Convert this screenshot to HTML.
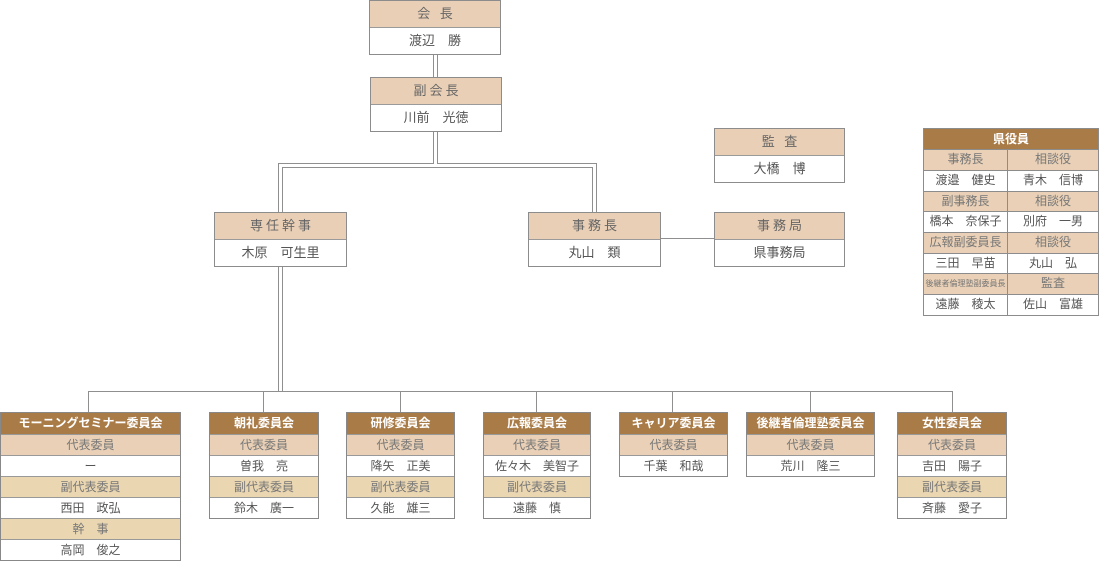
<!DOCTYPE html>
<html><head><meta charset="utf-8">
<style>
*{box-sizing:border-box;margin:0;padding:0}
body{width:1099px;height:562px;background:#fff;position:relative;overflow:hidden;font-family:"Liberation Sans","Noto Sans CJK JP",sans-serif;}
.b{position:absolute;border:1px solid #8c8c8c;background:#fff}
.b .h{height:26px;line-height:26px;background:#e9cfb5;text-align:center;font-size:13px;color:#666;letter-spacing:3px;padding-left:3px}
.b .n{height:26px;line-height:25px;border-top:1px solid #9a9a9a;text-align:center;font-size:13px;color:#555}
.c{position:absolute;top:412px;border:1px solid #888;background:#fff}
.c div{height:21px;line-height:20px;text-align:center;font-size:12px;border-top:1px solid #999;color:#555;white-space:nowrap}
.c .t{height:21px;border-top:none;background:#a97b47;color:#fff;font-weight:bold;line-height:21px}
.c .p{background:#e9d0b6;color:#777}
.c .y{background:#ead6b1;color:#777}
.g{position:absolute;left:923px;top:128px;width:176px;height:188px;border:1px solid #8c8c8c;background:#8c8c8c;display:grid;grid-template-columns:83px 90px;grid-template-rows:20px 20px 20px 19px 20px 20px 19px 20px 20px;gap:1px}
.g div{background:#fff;text-align:center;font-size:12px;color:#555;line-height:19px;white-space:nowrap;overflow:hidden}
.g .t{grid-column:1 / 3;background:#a97b47;color:#fff;font-weight:bold;line-height:20px}
.g .p{background:#e9d0b6;color:#777}
svg{position:absolute;left:0;top:0}
</style></head><body>
<svg width="1099" height="562" viewBox="0 0 1099 562">
<g stroke="#8f8f8f" stroke-width="1" fill="none">
<line x1="433.5" y1="55" x2="433.5" y2="77"/>
<line x1="437.5" y1="55" x2="437.5" y2="77"/>
<polyline points="433.5,132 433.5,163.5 278.5,163.5 278.5,212"/>
<polyline points="437.5,132 437.5,163.5 596.5,163.5 596.5,212"/>
<polyline points="282.5,212 282.5,167.5 592.5,167.5 592.5,212"/>
<line x1="278.5" y1="267" x2="278.5" y2="391"/>
<line x1="282.5" y1="267" x2="282.5" y2="391"/>
<line x1="88" y1="391.5" x2="953" y2="391.5"/>
<line x1="88.5" y1="391" x2="88.5" y2="412"/>
<line x1="263.5" y1="391" x2="263.5" y2="412"/>
<line x1="400.5" y1="391" x2="400.5" y2="412"/>
<line x1="536.5" y1="391" x2="536.5" y2="412"/>
<line x1="672.5" y1="391" x2="672.5" y2="412"/>
<line x1="810.5" y1="391" x2="810.5" y2="412"/>
<line x1="952.5" y1="391" x2="952.5" y2="412"/>
<line x1="660" y1="238.5" x2="714" y2="238.5"/>
</g>
</svg>

<div class="b" style="left:369px;top:0;width:132px;height:55px"><div class="h">会 長</div><div class="n">渡辺　勝</div></div>
<div class="b" style="left:370px;top:77px;width:132px;height:55px"><div class="h">副会長</div><div class="n">川前　光徳</div></div>
<div class="b" style="left:214px;top:212px;width:133px;height:55px"><div class="h">専任幹事</div><div class="n">木原　可生里</div></div>
<div class="b" style="left:528px;top:212px;width:133px;height:55px"><div class="h">事務長</div><div class="n">丸山　類</div></div>
<div class="b" style="left:714px;top:128px;width:131px;height:55px"><div class="h">監 査</div><div class="n">大橋　博</div></div>
<div class="b" style="left:714px;top:212px;width:131px;height:55px"><div class="h">事務局</div><div class="n">県事務局</div></div>

<div class="c" style="left:0;width:181px"><div class="t">モーニングセミナー委員会</div><div class="p">代表委員</div><div>ー</div><div class="y">副代表委員</div><div>西田　政弘</div><div class="y">幹　事</div><div>高岡　俊之</div></div>
<div class="c" style="left:209px;width:110px"><div class="t">朝礼委員会</div><div class="p">代表委員</div><div>曽我　亮</div><div class="y">副代表委員</div><div>鈴木　廣一</div></div>
<div class="c" style="left:346px;width:109px"><div class="t">研修委員会</div><div class="p">代表委員</div><div>降矢　正美</div><div class="y">副代表委員</div><div>久能　雄三</div></div>
<div class="c" style="left:483px;width:108px"><div class="t">広報委員会</div><div class="p">代表委員</div><div>佐々木　美智子</div><div class="y">副代表委員</div><div>遠藤　慎</div></div>
<div class="c" style="left:619px;width:109px"><div class="t">キャリア委員会</div><div class="p">代表委員</div><div>千葉　和哉</div></div>
<div class="c" style="left:746px;width:129px"><div class="t">後継者倫理塾委員会</div><div class="p">代表委員</div><div>荒川　隆三</div></div>
<div class="c" style="left:897px;width:110px"><div class="t">女性委員会</div><div class="p">代表委員</div><div>吉田　陽子</div><div class="y">副代表委員</div><div>斉藤　愛子</div></div>

<div class="g">
<div class="t">県役員</div>
<div class="p">事務長</div><div class="p">相談役</div>
<div>渡邉　健史</div><div>青木　信博</div>
<div class="p">副事務長</div><div class="p">相談役</div>
<div>橋本　奈保子</div><div>別府　一男</div>
<div class="p">広報副委員長</div><div class="p">相談役</div>
<div>三田　早苗</div><div>丸山　弘</div>
<div class="p" style="font-size:8px">後継者倫理塾副委員長</div><div class="p">監査</div>
<div>遠藤　稜太</div><div>佐山　富雄</div>
</div>
</body></html>
